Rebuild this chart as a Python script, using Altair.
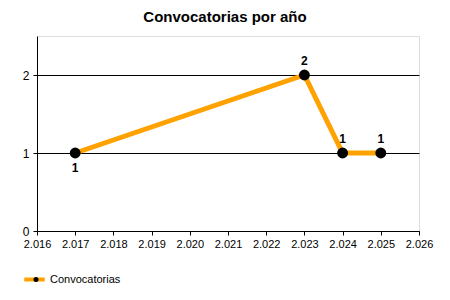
import altair as alt
import pandas as pd

anios = [2017, 2023, 2024, 2025]
valores = [1, 2, 1, 1]
serie = "Convocatorias"
ticks_x = list(range(2016, 2027))
ticks_y = [0, 1, 2]

df = pd.DataFrame({"anio": anios, "valor": valores, "serie": [serie] * len(anios)})

FONT = "Liberation Sans"

x = alt.X("anio:Q",
          scale=alt.Scale(domain=[2016, 2026], nice=False, zero=False),
          axis=alt.Axis(values=ticks_x, title=None, grid=False,
                        labelExpr="replace(format(datum.value, ','), ',', '.')",
                        labelFlush=False, labelOverlap=False,
                        tickSize=4, labelPadding=3, labelFontSize=11,
                        labelColor="black", domainColor="black", tickColor="black",
                        labelFont=FONT))
y = alt.Y("valor:Q",
          scale=alt.Scale(domain=[0, 2.5], nice=False),
          axis=alt.Axis(values=ticks_y, title=None, grid=True, gridColor="black",
                        gridOpacity=1, gridWidth=1, tickSize=4, labelPadding=4,
                        labelFontSize=12, labelColor="black", domainColor="black",
                        tickColor="black", labelFont=FONT))

base = alt.Chart(df)

linea = base.mark_line(strokeWidth=5).encode(
    x=x, y=y,
    color=alt.Color("serie:N", scale=alt.Scale(range=["#FFA200"]),
                    legend=alt.Legend(title=None, orient="none", legendX=-15, legendY=231,
                                      symbolType="stroke", symbolSize=420,
                                      symbolStrokeWidth=4, labelFontSize=11,
                                      labelFont=FONT, labelColor="black",
                                      padding=0, labelOffset=3)))

puntos = base.mark_point(filled=True, size=80, opacity=1).encode(
    x=x, y=y,
    shape=alt.Shape("serie:N", scale=alt.Scale(range=["circle"]),
                    legend=alt.Legend(title=None, orient="none", legendX=-6.5, legendY=238,
                                      symbolType="circle", symbolSize=25,
                                      symbolFillColor="black", symbolStrokeColor="black",
                                      symbolOpacity=1, labelExpr="''",
                                      labelFontSize=11, labelColor="transparent",
                                      padding=0)),
    fill=alt.value("black"), stroke=alt.value("black"))

etq_arriba = base.transform_filter("datum.anio != 2017").mark_text(
    dy=-14, fontSize=12, fontWeight="bold", font=FONT, color="black"
).encode(x=x, y=y, text="valor:Q")

etq_abajo = base.transform_filter("datum.anio == 2017").mark_text(
    dy=15, fontSize=12, fontWeight="bold", font=FONT, color="black"
).encode(x=x, y=y, text="valor:Q")

chart = alt.layer(linea, puntos, etq_arriba, etq_abajo).properties(
    width=382, height=195,
    title=alt.TitleParams("Convocatorias por año", fontSize=15, fontWeight="bold",
                          font=FONT, color="black", offset=11, dx=-3),
    autosize=alt.AutoSizeParams(type="none"),
    padding={"left": 37, "top": 36, "right": 31, "bottom": 69},
).resolve_legend(color="independent", shape="independent").configure_view(
    stroke=None
).configure(background="white")

chart.save("out.html", embed_options={"renderer": "svg", "actions": False})
